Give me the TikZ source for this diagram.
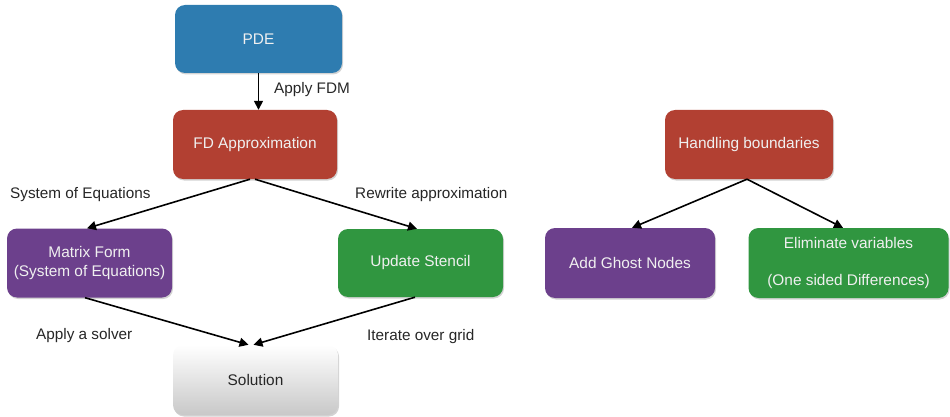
\documentclass[tikz,border=0pt]{standalone}
\usepackage{fontspec}
\setmainfont{Liberation Sans}
\usetikzlibrary{arrows.meta,shadows}
\definecolor{pdeblue}{RGB}{46,124,176}
\definecolor{fdred}{RGB}{178,64,50}
\definecolor{mpurple}{RGB}{108,64,140}
\definecolor{sgreen}{RGB}{48,150,64}
\definecolor{boxtext}{RGB}{240,240,240}
\definecolor{solgray}{RGB}{200,200,200}
\tikzset{
  box/.style={rounded corners=10pt, draw=none, text=boxtext, align=center,
    font=\fontsize{15.4}{18.5}\selectfont, inner sep=0pt,
    drop shadow={shadow xshift=1pt, shadow yshift=-1.5pt, opacity=0.35}},
  lbl/.style={font=\fontsize{15.3}{18}\selectfont, text=black!85, anchor=west, inner sep=0pt},
  conn/.style={line width=1.6pt, -{Triangle[width=9pt,length=9pt]}}
}
\begin{document}
\begin{tikzpicture}[x=1pt,y=-1pt]
\useasboundingbox (0,0) rectangle (950,417);
\node[box, fill=pdeblue, minimum width=167pt, minimum height=68pt] (pde) at (258.5,39) {PDE};
\node[box, fill=fdred, minimum width=164pt, minimum height=69pt] (fd) at (255,144.5) {FD Approximation};
\node[box, fill=mpurple, minimum width=165pt, minimum height=69pt] (mat) at (89.5,263) {Matrix Form\\(System of Equations)};
\node[box, fill=sgreen, minimum width=165pt, minimum height=68pt] (sten) at (420.5,263) {Update Stencil};
\node[box, top color=white, bottom color=solgray, text=black!85, minimum width=165pt, minimum height=70pt] (sol) at (255.5,380) {Solution};
\node[box, fill=fdred, minimum width=168pt, minimum height=69pt] (hb) at (749,144.5) {Handling boundaries};
\node[box, fill=mpurple, minimum width=170pt, minimum height=70pt] (gh) at (630,263) {Add Ghost Nodes};
\node[box, fill=sgreen, minimum width=200pt, minimum height=70pt] (el) at (848.5,263) {Eliminate variables\\[19pt](One sided Differences)};

\draw[conn] (pde.south) -- (fd.north -| pde.south);
\draw[conn] ([xshift=-5pt]fd.south) -- ([xshift=-2.5pt]mat.north);
\draw[conn] (fd.south) -- ([xshift=-3.5pt]sten.north);
\draw[conn] ([xshift=-4.5pt]mat.south) -- ([xshift=-7pt]sol.north);
\draw[conn] ([xshift=-5.5pt]sten.south) -- ([xshift=-2pt]sol.north);
\draw[conn] ([xshift=-2pt]hb.south) -- ([xshift=2pt]gh.north);
\draw[conn] ([xshift=-2pt]hb.south) -- ([xshift=-5.5pt]el.north);

\node[lbl] (l1) at (274,90) {Apply FDM};
\node[lbl] (l2) at (10,195) {System of Equations};
\node[lbl] (l3) at (355,195) {Rewrite approximation};
\node[lbl] (l4) at (36,336) {Apply a solver};
\node[lbl] (l5) at (367,337) {Iterate over grid};
\end{tikzpicture}
\end{document}
